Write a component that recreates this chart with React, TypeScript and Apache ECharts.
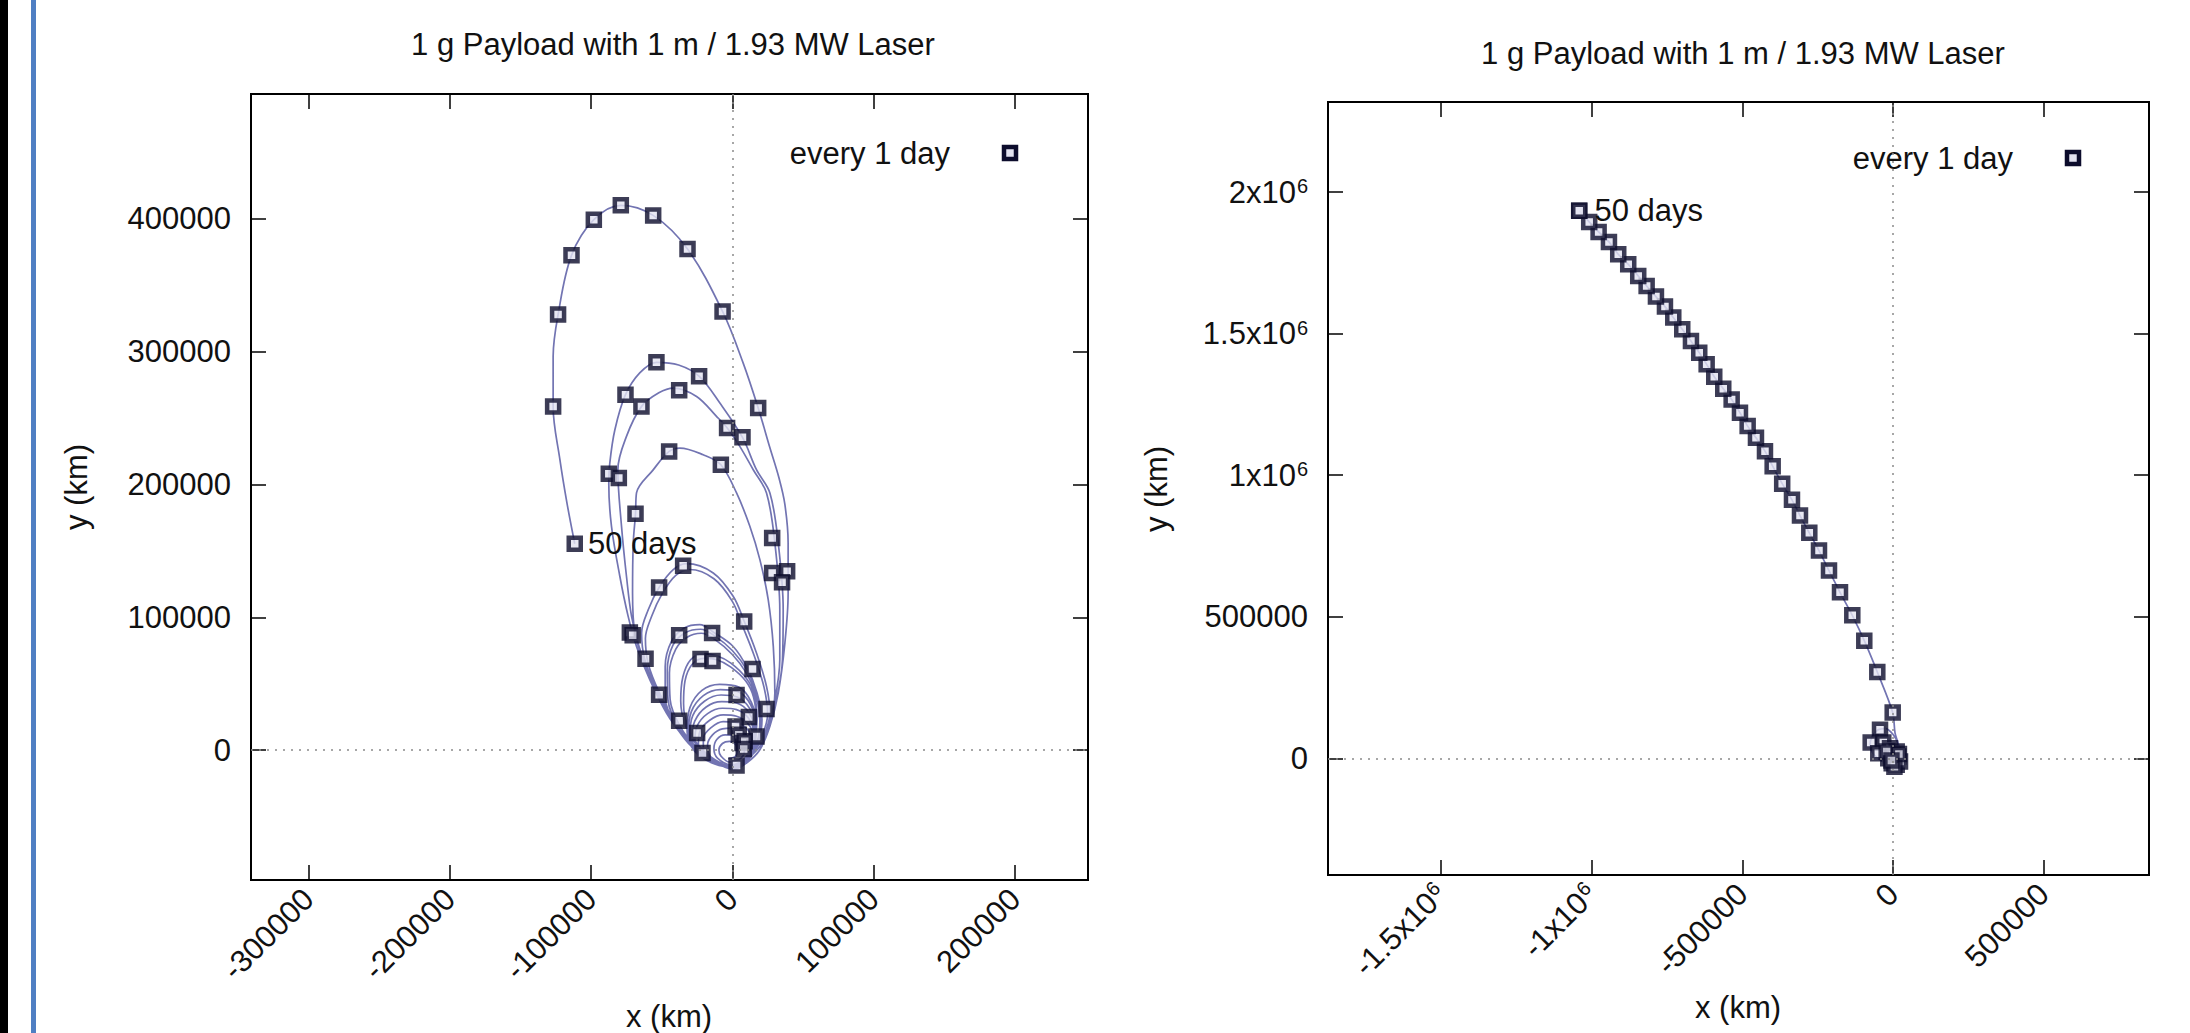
import React, { useEffect, useRef } from 'react';
import * as echarts from 'echarts';

const TITLE = '1 g Payload with 1 m / 1.93 MW Laser';
const LEGEND_LABEL = 'every 1 day';
const END_LABEL = '50 days';
const X_NAME = 'x (km)';
const Y_NAME = 'y (km)';

// ---------- left chart ----------
const leftXRange = [-340600, 251700];
const leftYRange = [-97800, 494000];
const leftXTicks = [-300000, -200000, -100000, 0, 100000, 200000];
const leftYTicks = [0, 100000, 200000, 300000, 400000];

// daily positions (km)
const leftMarkers = [
  [-78900, 410200], [-98000, 399400], [-113800, 372500], [-123300, 327900], [-126800, 258800],
  [-56000, 402600], [-31700, 377300], [-6900, 330300], [18300, 257600], [-53700, 292000],
  [-23500, 281400], [-75600, 267600], [-64300, 258800], [-37600, 270900], [-3700, 242500],
  [7200, 235500], [-44700, 224900], [-8100, 214900], [-87400, 208100], [-80300, 204900],
  [-68500, 178000], [28200, 159700], [28200, 133400], [38800, 134600], [35200, 126300],
  [-34800, 138900], [-51800, 122500], [8400, 96900], [-72500, 88500], [-70500, 86500],
  [-37600, 86400], [-14300, 88200], [-61400, 68800], [-22500, 68600], [-14000, 67100],
  [14300, 61100], [-51800, 41700], [3000, 41500], [24200, 30900], [-37600, 22100],
  [11700, 24900], [-24900, 12900], [2300, 17800], [4600, 11600], [17100, 10300],
  [7200, 5300], [8800, 6600], [8100, 800], [-21100, -2200], [3000, -11500],
];
const leftEnd = [-111500, 155400];

// traced trajectory, one array per revolution (km)
const orbit01 = [[-3000, -6500], [2000, -5000], [3500, -500], [2500, 4000], [-2000, 6500], [-7000, 5000], [-9500, 0], [-8000, -4500]];
const orbit02 = [[-2000, -9000], [5000, -7000], [8500, -1000], [7500, 6000], [2000, 10500], [-5000, 11500], [-11000, 8000], [-13000, 1000], [-10500, -6000]];
const orbit03 = [[-1000, -11000], [7000, -8000], [11500, -1000], [12000, 7000], [7500, 13500], [0, 16500], [-7000, 16000], [-14000, 11500], [-17500, 4000], [-16000, -4000], [-10000, -9500]];
const orbit04 = [[0, -11500], [8000, -8000], [12500, 0], [13500, 9000], [9500, 17000], [1500, 21000], [-6500, 21500], [-15000, 17000], [-20500, 9000], [-20500, 0], [-15000, -7500], [-7000, -11000]];
const orbit05 = [[1000, -12000], [9000, -7500], [13500, 1000], [14500, 11000], [11000, 20000], [3000, 25500], [-6500, 26500], [-16000, 22500], [-23000, 14000], [-24000, 4000], [-19000, -5000], [-9000, -10500]];
const orbit06 = [[1000, -12000], [9500, -7000], [14000, 2000], [15000, 13000], [11500, 24000], [3000, 30500], [-7000, 31500], [-17500, 27500], [-25000, 18000], [-26500, 7000], [-21500, -3500], [-10000, -10500]];
const orbit07 = [[1000, -12500], [10000, -7000], [14500, 3000], [15500, 15000], [12000, 28000], [3000, 35500], [-7500, 36500], [-18500, 32500], [-26500, 22000], [-28500, 9000], [-23000, -3000], [-11000, -10500]];
const orbit08 = [[1000, -12500], [10000, -7000], [15000, 3000], [16000, 17000], [12500, 31000], [3500, 40000], [-8000, 41500], [-19500, 37000], [-28000, 26000], [-30000, 11000], [-24500, -2000], [-11500, -10500]];
const orbit09 = [[1000, -12500], [10500, -7000], [15500, 3500], [16500, 18000], [13000, 34000], [4000, 44000], [-8500, 45500], [-20500, 41000], [-29000, 29000], [-31000, 13000], [-25500, -1500], [-12000, -10500]];
const orbit10 = [[1000, -12500], [11000, -7000], [16000, 4000], [17000, 19000], [13500, 36000], [4500, 47500], [-9000, 49500], [-21500, 45000], [-30000, 32000], [-32000, 14000], [-26500, -1000], [-12500, -10500]];
const orbit11 = [[1500, -13000], [10000, -6500], [15000, 5000], [17000, 22000], [15000, 40000], [9500, 52000], [-1000, 62500], [-11000, 68000], [-20000, 69000], [-28500, 64500], [-33500, 52000], [-34500, 35000], [-31500, 17000], [-23500, 3000], [-12000, -7500]];
const orbit12 = [[1500, -13000], [10500, -6500], [15500, 6000], [17500, 23000], [15500, 42000], [10000, 54000], [-1000, 65500], [-11000, 71000], [-20500, 72500], [-29500, 68000], [-35000, 55000], [-36500, 37000], [-33000, 18000], [-24500, 3000], [-12500, -8000]];
const orbit13 = [[1500, -13000], [11000, -6500], [17500, 6000], [19500, 22000], [16500, 42000], [10000, 58000], [0, 72000], [-12000, 83000], [-22000, 88000], [-32000, 85000], [-40000, 76000], [-44500, 58000], [-44000, 38000], [-37000, 18000], [-25500, 2000], [-12500, -8000]];
const orbit14 = [[1500, -13000], [11500, -6500], [18000, 6000], [20500, 22500], [17000, 43000], [10500, 60000], [0, 75000], [-12500, 86000], [-22500, 91000], [-33000, 88500], [-42000, 79000], [-46000, 60000], [-45500, 38000], [-38000, 17000], [-26000, 1000], [-13000, -8500]];
const orbit15 = [[1500, -13500], [12000, -6500], [18500, 6000], [21000, 23000], [17500, 43000], [10500, 62000], [600, 78000], [-13000, 88500], [-23000, 94500], [-34000, 92000], [-43000, 82000], [-47500, 63000], [-47500, 40000], [-39500, 18000], [-27000, 1000], [-13500, -9000]];
const orbit16 = [[1000, -13500], [11500, -5000], [20500, 10000], [25000, 27000], [22500, 47000], [15500, 71000], [7000, 94000], [0, 112000], [-13000, 129000], [-30000, 136000], [-40000, 131500], [-49500, 118000], [-57000, 101000], [-61500, 84000], [-59500, 65000], [-52000, 44000], [-41000, 22000], [-29500, 5000], [-15500, -7500]];
const orbit17 = [[1000, -13500], [12400, -4700], [21900, 10400], [26600, 27900], [24200, 48000], [17100, 73100], [8400, 97000], [600, 115800], [-13500, 133400], [-32400, 140400], [-41800, 135900], [-51700, 122600], [-59500, 105700], [-64200, 88200], [-61900, 68100], [-53600, 45500], [-41800, 22900], [-30000, 5400], [-15900, -7200]];
const orbit18 = [[1000, -13500], [10100, -7200], [19500, 2800], [26600, 20400], [30100, 43000], [29000, 78100], [25400, 113300], [19500, 143400], [12400, 168500], [3000, 193600], [-8100, 214900], [-20600, 222400], [-37100, 227400], [-44700, 224900], [-56000, 211000], [-67800, 193600], [-68500, 178000], [-70100, 156000], [-70600, 118300], [-69000, 88200], [-63000, 68000], [-55000, 46000], [-43000, 23000], [-31000, 5000], [-16000, -7500]];
const orbit19 = [[1500, -13500], [13000, -2000], [24200, 15400], [30100, 38000], [33600, 68100], [33600, 105700], [30100, 156000], [24200, 193600], [14800, 211100], [5300, 228700], [-3600, 242500], [-11200, 251300], [-25300, 266300], [-41800, 272600], [-52000, 269000], [-64200, 258800], [-74900, 236200], [-81000, 211100], [-78400, 168500], [-74900, 130900], [-71300, 100700], [-66000, 78000], [-57000, 52000], [-45500, 27000], [-33000, 8000], [-17000, -6500]];
const orbit20 = [[1500, -13500], [14000, -2000], [25400, 15400], [31300, 38000], [35500, 68100], [36000, 105700], [32500, 156000], [26600, 193600], [17100, 211100], [7200, 235400], [-8800, 261300], [-23400, 281400], [-38000, 290000], [-53700, 292000], [-65500, 284000], [-75600, 267600], [-83100, 241200], [-86700, 216100], [-87400, 200000], [-85500, 168500], [-79600, 130900], [-73700, 100700], [-67800, 78100], [-58400, 53000], [-46600, 27900], [-34800, 10400], [-23000, -2200], [-11200, -9700]];
const orbit21 = [[1000, -14500], [10100, -9700], [19500, 300], [26600, 17900], [32500, 43000], [37200, 80600], [39500, 118300], [39500, 156000], [37200, 185000], [33000, 205000], [26500, 228000], [18300, 257600], [7700, 291400], [-6900, 330300], [-31700, 377300], [-56000, 402600], [-78900, 410200], [-98000, 399400], [-113800, 372500], [-123300, 327900], [-126800, 296400], [-126800, 258800], [-122000, 218700], [-117000, 186000], [-111500, 155400]];

// ---------- right chart ----------
const rightXRange = [-1875000, 850000];
const rightYRange = [-412000, 2318000];
const rightXTicks = [-1500000, -1000000, -500000, 0, 500000];
const rightYTicks = [0, 500000, 1000000, 1500000, 2000000];

const rightEscape = [
  [-700, 162000], [-51800, 304800], [-95000, 415500], [-134800, 505000], [-175600, 586300],
  [-212100, 663000], [-245300, 733700], [-277500, 796300], [-308400, 857500], [-335000, 913000],
  [-367500, 970000], [-399100, 1031800], [-424600, 1084900], [-454500, 1132200], [-482100, 1173300],
  [-507600, 1220600], [-535200, 1267700], [-563100, 1305500], [-593000, 1348000], [-618200, 1391400],
  [-642800, 1432800], [-670300, 1473800], [-699200, 1515200], [-729000, 1556600], [-756600, 1595400],
  [-786500, 1630800], [-817400, 1668300], [-845300, 1703700], [-878500, 1745000], [-911700, 1780400],
  [-942500, 1823900], [-976800, 1859200], [-1008000, 1894600], [-1041200, 1933500],
];
const rightCluster = [
  [-42800, 100800], [-73700, 55900], [-31900, 55900], [-48500, 18400], [-9600, 36000],
  [12600, 24000], [-15300, 700], [7000, -5300], [17900, 6400], [-4000, -17000],
  [12600, -23000], [0, 12000], [-20600, 24000], [23600, -11300], [5000, -30000],
  [20000, 15000], [-5000, -8000],
];
const rightLoops = [
  [-10000, -15000], [12000, -16000], [24000, -4000], [26000, 18000], [18000, 50000], [0, 85000],
  [-25000, 105000], [-50000, 100000], [-70000, 75000], [-76000, 45000], [-62000, 12000], [-35000, -10000],
  [-8000, -18000], [14000, -12000], [24000, 6000], [18000, 50000], [7000, 90000],
];
const rightEnd = [-1041200, 1933500];

// ---------- styling ----------
const FONT = "'Liberation Sans', Arial, Helvetica, sans-serif";
const TEXT = '#111111';
const LINE = '#7274b2';
const MARK_FILL = '#e2e2f0';
const MARK_EDGE = '#0c0c2c';
const MARK_SIZE = 12;

const plainFmt = (v: number) => String(v);
const sciFmt = (v: number) => (Math.abs(v) >= 1e6 ? `{n|${v / 1e6}x10}{s|6}` : `{n|${v}}`);
const sciRich = {
  n: { fontSize: 31, fontFamily: FONT, color: TEXT },
  s: { fontSize: 20, fontFamily: FONT, color: TEXT, verticalAlign: 'top', padding: [0, 0, 12, 1] },
};

function axisPair(kind: 'x' | 'y', gridIndex: number, range: number[], ticks: number[], fmt: any, rich?: any) {
  const common: any = {
    type: 'value', gridIndex, min: range[0], max: range[1],
    axisLine: { show: false, onZero: false }, splitLine: { show: false },
    axisTick: { show: true, inside: true, length: 15, customValues: ticks, lineStyle: { color: '#000', width: 1.5 } },
  };
  const label: any = {
    show: true, customValues: ticks, formatter: fmt, fontSize: 31, fontFamily: FONT, color: TEXT,
    margin: kind === 'x' ? 14 : 20,
  };
  if (kind === 'x') label.rotate = 45;
  if (rich) label.rich = rich;
  return [
    { ...common, position: kind === 'x' ? 'bottom' : 'left', axisLabel: label },
    { ...common, position: kind === 'x' ? 'top' : 'right', axisLabel: { show: false } },
  ];
}

const zeroLines = {
  silent: true, symbol: ['none', 'none'], label: { show: false },
  lineStyle: { color: '#8a8a8a', width: 1.5, type: [2, 6] },
  data: [{ xAxis: 0 }, { yAxis: 0 }],
};

const markerStyle = { color: MARK_FILL, borderColor: MARK_EDGE, borderWidth: 4.5 };
const endLabel = (distance: number) => ({
  show: true, position: 'right', distance, formatter: END_LABEL, fontSize: 31, fontFamily: FONT,
  color: TEXT, textBorderWidth: 0, opacity: 1,
});

export default function App() {
  const ref = useRef<HTMLDivElement>(null);
  useEffect(() => {
    if (!ref.current) return;
    const chart = echarts.init(ref.current, null, { renderer: 'svg' });
    const leftTrack = [
      ...orbit01, ...orbit02, ...orbit03, ...orbit04, ...orbit05, ...orbit06, ...orbit07,
      ...orbit08, ...orbit09, ...orbit10, ...orbit11, ...orbit12, ...orbit13, ...orbit14,
      ...orbit15, ...orbit16, ...orbit17, ...orbit18, ...orbit19, ...orbit20, ...orbit21,
    ];
    const rightTrack = [...rightLoops, ...rightEscape];
    const textStyle = { fontSize: 31, fontFamily: FONT, color: TEXT, fontWeight: 'normal' as const };
    const legendText = (x: number, y: number) => ({
      type: 'text', x, y,
      style: { text: LEGEND_LABEL, fontSize: 31, fontFamily: FONT, fill: TEXT, align: 'right', verticalAlign: 'middle' },
    });
    const legendMark = (cx: number, cy: number) => ({
      type: 'rect', shape: { x: cx - MARK_SIZE / 2, y: cy - MARK_SIZE / 2, width: MARK_SIZE, height: MARK_SIZE },
      style: { fill: MARK_FILL, stroke: MARK_EDGE, lineWidth: 4.5 },
    });

    chart.setOption({
      animation: false,
      backgroundColor: '#fff',
      title: [
        { text: TITLE, left: 668, top: 24, textAlign: 'center', textStyle },
        { text: TITLE, left: 1738, top: 33, textAlign: 'center', textStyle },
      ],
      grid: [
        { left: 251, top: 94, width: 837, height: 786, show: true, borderColor: '#000', borderWidth: 2, backgroundColor: 'transparent', containLabel: false, outerBoundsMode: 'none' },
        { left: 1328, top: 102, width: 821, height: 773, show: true, borderColor: '#000', borderWidth: 2, backgroundColor: 'transparent', containLabel: false, outerBoundsMode: 'none' },
      ],
      xAxis: [
        ...axisPair('x', 0, leftXRange, leftXTicks, plainFmt),
        ...axisPair('x', 1, rightXRange, rightXTicks, sciFmt, sciRich),
      ],
      yAxis: [
        ...axisPair('y', 0, leftYRange, leftYTicks, plainFmt),
        ...axisPair('y', 1, rightYRange, rightYTicks, sciFmt, sciRich),
      ],
      graphic: [
        { type: 'rect', shape: { x: 0, y: 0, width: 8, height: 1033 }, style: { fill: '#000' }, silent: true },
        { type: 'rect', shape: { x: 31, y: 0, width: 5, height: 1033 }, style: { fill: '#4f7fc3' }, silent: true },
        legendText(950, 153),
        legendMark(1010, 153),
        legendText(2013, 158),
        legendMark(2073, 158),
        { type: 'text', x: 669, y: 1016, style: { text: X_NAME, fontSize: 31, fontFamily: FONT, fill: TEXT, align: 'center', verticalAlign: 'middle' } },
        { type: 'text', x: 1738, y: 1007, style: { text: X_NAME, fontSize: 31, fontFamily: FONT, fill: TEXT, align: 'center', verticalAlign: 'middle' } },
        { type: 'text', x: 76, y: 487, rotation: Math.PI / 2, style: { text: Y_NAME, fontSize: 31, fontFamily: FONT, fill: TEXT, align: 'center', verticalAlign: 'middle' } },
        { type: 'text', x: 1156, y: 489, rotation: Math.PI / 2, style: { text: Y_NAME, fontSize: 31, fontFamily: FONT, fill: TEXT, align: 'center', verticalAlign: 'middle' } },
      ],
      series: [
        {
          name: 'trajectory', type: 'line', xAxisIndex: 0, yAxisIndex: 0, data: leftTrack,
          showSymbol: false, smooth: 0.35, lineStyle: { color: LINE, width: 1.7 }, z: 2, silent: true,
          markLine: zeroLines,
        },
        {
          name: LEGEND_LABEL, type: 'scatter', xAxisIndex: 0, yAxisIndex: 0, data: leftMarkers,
          symbol: 'rect', symbolSize: MARK_SIZE, itemStyle: markerStyle, z: 3,
        },
        {
          name: END_LABEL, type: 'scatter', xAxisIndex: 0, yAxisIndex: 0, data: [leftEnd],
          symbol: 'rect', symbolSize: MARK_SIZE, itemStyle: markerStyle, z: 3, label: endLabel(5),
        },
        {
          name: 'trajectory (escape)', type: 'line', xAxisIndex: 2, yAxisIndex: 2, data: rightTrack,
          showSymbol: false, smooth: 0.3, lineStyle: { color: LINE, width: 1.7 }, z: 2, silent: true,
          markLine: zeroLines,
        },
        {
          name: LEGEND_LABEL, type: 'scatter', xAxisIndex: 2, yAxisIndex: 2, data: [...rightCluster, ...rightEscape],
          symbol: 'rect', symbolSize: MARK_SIZE, itemStyle: markerStyle, z: 3,
        },
        {
          name: END_LABEL, type: 'scatter', xAxisIndex: 2, yAxisIndex: 2, data: [rightEnd],
          symbol: 'rect', symbolSize: MARK_SIZE, itemStyle: markerStyle, z: 3, label: endLabel(7),
        },
      ],
    });
    return () => chart.dispose();
  }, []);
  return (
    <div
      ref={ref}
      style={{ position: 'fixed', left: 0, top: 0, width: 2190, height: 1033, background: '#fff' }}
    />
  );
}
